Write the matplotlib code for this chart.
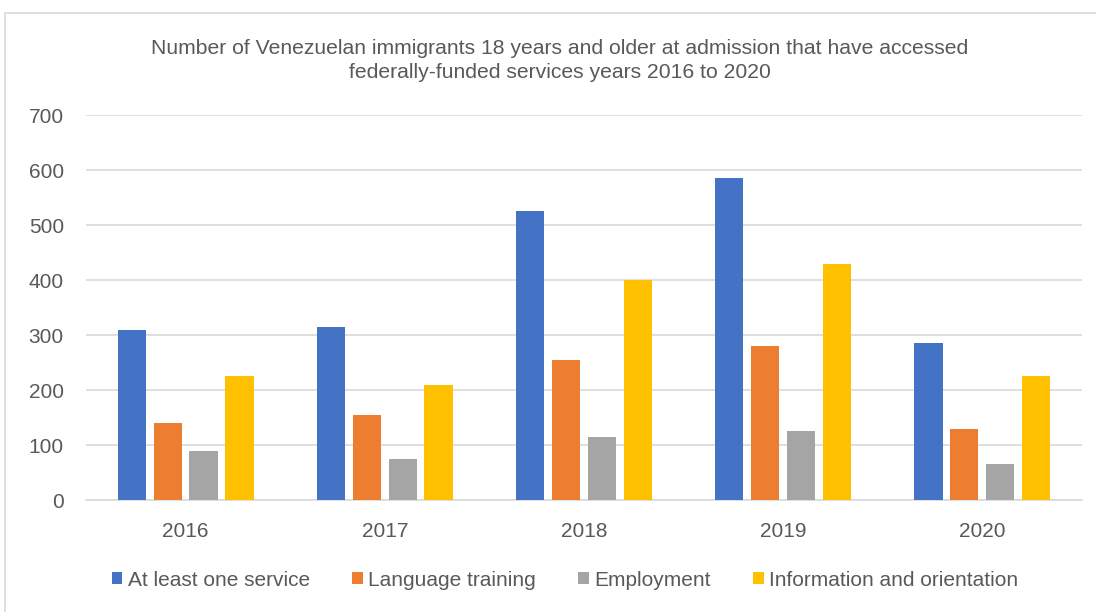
import matplotlib.pyplot as plt
import numpy as np
from matplotlib.patches import Rectangle

plt.rcParams['font.family'] = ['Liberation Sans', 'DejaVu Sans']

years = ['2016', '2017', '2018', '2019', '2020']
series = ['At least one service', 'Language training', 'Employment',
          'Information and orientation']
at_least_one = [310, 315, 525, 585, 285]
language = [140, 155, 255, 280, 130]
employment = [90, 75, 115, 125, 65]
info_orientation = [225, 210, 400, 430, 225]
colors = ['#4472C4', '#ED7D31', '#A5A5A5', '#FFC000']

fig = plt.figure(figsize=(10.96, 6.12), dpi=100)
ax = fig.add_axes([0.0785, 0.183, 0.9085, 0.629])

# outer chart frame
fig.patches.append(Rectangle((5 / 1096, -0.05), 1.2, 1.05 - 13 / 612, transform=fig.transFigure,
                             fill=False, ec='#d9d9d9', lw=1.2))

x = np.arange(len(years))
width = 0.142
step = 0.18
values = [at_least_one, language, employment, info_orientation]
for i, vals in enumerate(values):
    ax.bar(x + (i - 1.5) * step, vals, width, color=colors[i], label=series[i], zorder=3)

ax.set_xlim(-0.5, len(years) - 0.5)
ax.set_ylim(0, 700)
ax.set_yticks(range(0, 701, 100))
ax.set_xticks(x)
ax.set_xticklabels(years)
ax.grid(axis='y', color='#d9d9d9', lw=1.2, zorder=0)
for side in ['top', 'right', 'left']:
    ax.spines[side].set_visible(False)
ax.spines['bottom'].set_color('#d9d9d9')
ax.spines['bottom'].set_linewidth(1.2)
ax.tick_params(length=0, labelsize=15, colors='#595959')
ax.tick_params(axis='x', pad=16)
ax.tick_params(axis='y', pad=16)

fig.text(0.511, 0.901, 'Number of Venezuelan immigrants 18 years and older at admission that have accessed\n'
         'federally-funded services years 2016 to 2020', ha='center', va='center',
         fontsize=15.2, color='#595959', linespacing=1.32)

handles, labels = ax.get_legend_handles_labels()
fig.legend(handles, labels, loc='center', bbox_to_anchor=(0.5155, 0.052), ncol=4, frameon=False,
           fontsize=15, handlelength=0.5, handleheight=0.5, handletextpad=0.25,
           columnspacing=2.05, labelcolor='#595959')

fig.savefig('out.png', dpi=100)
